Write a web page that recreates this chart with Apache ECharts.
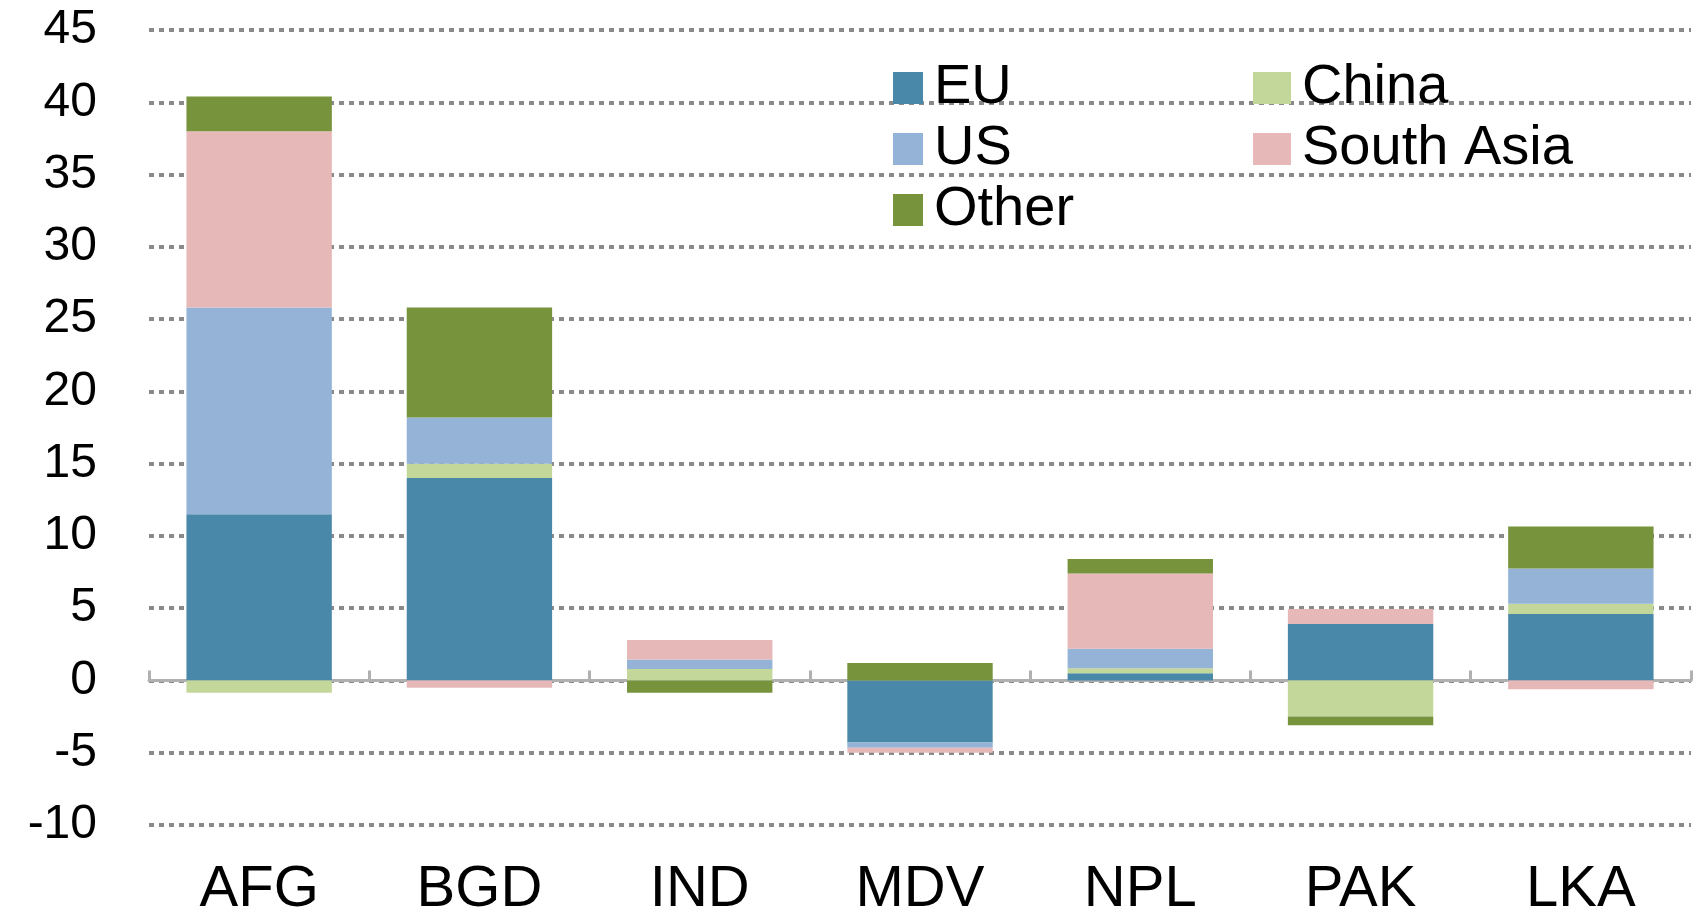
<!DOCTYPE html>
<html>
<head>
<meta charset="utf-8">
<script src="https://cdn.jsdelivr.net/npm/echarts@6/dist/echarts.min.js"></script>
<style>
  html, body { margin: 0; padding: 0; background: #fff; }
  #chart { width: 1702px; height: 912px; }
</style>
</head>
<body>
<div id="chart"></div>
<script>
// data
const categories = ['AFG', 'BGD', 'IND', 'MDV', 'NPL', 'PAK', 'LKA']
const euValues = [11.5, 14.0, 0, -4.3, 0.5, 3.9, 4.6]
const chinaValues = [-0.85, 1.0, 0.8, 0, 0.35, -2.5, 0.7]
const usValues = [14.3, 3.2, 0.65, -0.35, 1.35, 0, 2.45]
const southAsiaValues = [12.2, -0.5, 1.35, -0.35, 5.2, 1.05, -0.6]
const otherValues = [2.4, 7.6, -0.85, 1.2, 1.0, -0.6, 2.9]
const yTicks = { min: -10, max: 45, interval: 5 }

const font = '"Liberation Sans", Arial, sans-serif'

function barSeries (name, data, color) {
  return {
    name: name,
    type: 'bar',
    stack: 'total',
    barWidth: '66%',
    xAxisIndex: 0,
    itemStyle: { color: color },
    data: data
  }
}

const chart = echarts.init(document.getElementById('chart'))
const legendText = {
  fontFamily: font,
  fontSize: 56,
  color: '#000',
  lineHeight: 44,
  padding: [0, 0, 0, 6]
}
const option = {
  animation: false,
  grid: { left: 149, right: 11, top: 30, bottom: 87, outerBoundsMode: 'none' },
  legend: [
    {
      orient: 'vertical',
      left: 888,
      top: 55,
      icon: 'rect',
      itemWidth: 30,
      itemHeight: 32,
      itemGap: 5,
      selectedMode: false,
      textStyle: legendText,
      data: ['EU', 'US', 'Other']
    },
    {
      orient: 'vertical',
      left: 1248,
      top: 55,
      icon: 'rect',
      itemWidth: 38,
      itemHeight: 32,
      itemGap: 5,
      selectedMode: false,
      textStyle: legendText,
      data: ['China', 'South Asia']
    }
  ],
  xAxis: [
    {
      type: 'category',
      data: categories,
      axisLine: { onZero: true, lineStyle: { color: '#b0b0b0', width: 3 } },
      axisTick: { show: true, inside: true, length: 10, lineStyle: { color: '#b0b0b0', width: 3 } },
      axisLabel: { show: false }
    },
    {
      type: 'category',
      data: categories,
      position: 'bottom',
      axisLine: { show: false, onZero: false },
      axisTick: { show: false },
      axisLabel: { fontFamily: font, fontSize: 58, color: '#000', margin: 36 }
    }
  ],
  yAxis: {
    type: 'value',
    min: yTicks.min,
    max: yTicks.max,
    interval: yTicks.interval,
    axisLine: { show: false },
    axisTick: { show: false },
    axisLabel: { fontFamily: font, fontSize: 48, color: '#000', margin: 52 },
    splitLine: { lineStyle: { color: '#8a8a8a', width: 4, type: [5, 5] } }
  },
  series: [
    barSeries('EU', euValues, '#4a88aa'),
    barSeries('China', chinaValues, '#c4d79b'),
    barSeries('US', usValues, '#95b3d7'),
    barSeries('South Asia', southAsiaValues, '#e6b8b7'),
    barSeries('Other', otherValues, '#77933c')
  ]
}
chart.setOption(option)
</script>
</body>
</html>
